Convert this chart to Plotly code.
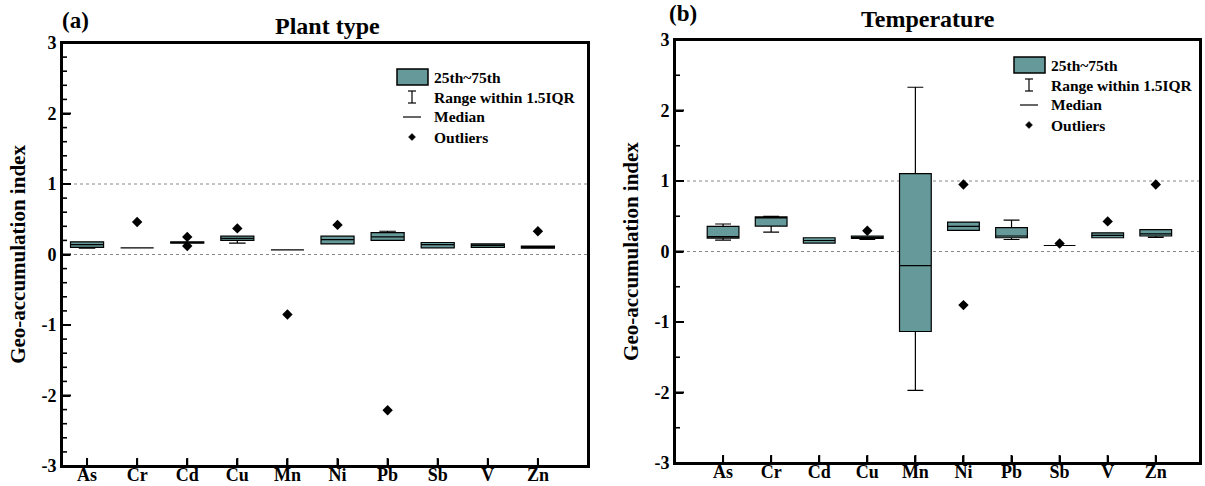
import plotly.graph_objects as go

W, H = 1205, 486

elements = ["As", "Cr", "Cd", "Cu", "Mn", "Ni", "Pb", "Sb", "V", "Zn"]

# Panel (a): Plant type
plant_q1 = [0.10, 0.095, 0.16, 0.20, 0.065, 0.15, 0.20, 0.095, 0.10, 0.09]
plant_med = [0.14, 0.095, 0.17, 0.23, 0.065, 0.21, 0.25, 0.14, 0.13, 0.11]
plant_q3 = [0.18, 0.095, 0.18, 0.26, 0.065, 0.26, 0.31, 0.17, 0.15, 0.12]
plant_lo = [0.09, 0.095, 0.16, 0.16, 0.065, 0.15, 0.20, 0.095, 0.10, 0.09]
plant_hi = [0.18, 0.095, 0.18, 0.26, 0.065, 0.26, 0.33, 0.17, 0.15, 0.12]
plant_out_x = ["Cr", "Cd", "Cd", "Cu", "Mn", "Ni", "Pb", "Zn"]
plant_out_y = [0.46, 0.25, 0.12, 0.37, -0.85, 0.42, -2.21, 0.33]

# Panel (b): Temperature
temp_q1 = [0.19, 0.36, 0.12, 0.185, -1.135, 0.30, 0.195, 0.085, 0.195, 0.22]
temp_med = [0.21, 0.48, 0.156, 0.20, -0.20, 0.356, 0.22, 0.085, 0.23, 0.25]
temp_q3 = [0.356, 0.49, 0.195, 0.22, 1.106, 0.417, 0.34, 0.085, 0.265, 0.31]
temp_lo = [0.16, 0.275, 0.12, 0.17, -1.97, 0.30, 0.17, 0.085, 0.195, 0.20]
temp_hi = [0.39, 0.50, 0.195, 0.22, 2.33, 0.417, 0.445, 0.085, 0.265, 0.31]
temp_out_x = ["Cu", "Ni", "Ni", "Sb", "V", "Zn"]
temp_out_y = [0.295, 0.95, -0.76, 0.114, 0.427, 0.95]

yticks = [-3, -2, -1, 0, 1, 2, 3]
ytick_text = ["-3", "-2", "-1", "0", "1", "2", "3"]
yminor_a = [round(-3 + 0.2 * i, 1) for i in range(31) if i % 5 != 0]
yminor_b = [-2.5, -1.5, -0.5, 0.5, 1.5, 2.5]

XRANGE_A = [-0.5, 10.0]
XRANGE_B = [-1.0, 9.92]

FILL = "#669999"
FONT = "Liberation Serif"

fig = go.Figure()

def add_panel(q1, med, q3, lo, hi, ox, oy, xa, ya):
    fig.add_trace(go.Box(
        x=elements, q1=q1, median=med, q3=q3, lowerfence=lo, upperfence=hi,
        width=0.66, whiskerwidth=0.5, fillcolor=FILL,
        line=dict(color="black", width=1.2), boxpoints=False,
        xaxis=xa, yaxis=ya, showlegend=False, hoverinfo="skip"))
    fig.add_trace(go.Scatter(
        x=ox, y=oy, mode="markers",
        marker=dict(symbol="diamond", size=8, color="black"),
        xaxis=xa, yaxis=ya, showlegend=False, hoverinfo="skip"))

add_panel(plant_q1, plant_med, plant_q3, plant_lo, plant_hi, plant_out_x, plant_out_y, "x", "y")
add_panel(temp_q1, temp_med, temp_q3, temp_lo, temp_hi, temp_out_x, temp_out_y, "x2", "y2")

def px_x(p):
    return p / W

def px_y(p):
    return 1 - p / H

xa_common = dict(type="category", categoryorder="array", categoryarray=elements,
                 showline=True, linecolor="black", linewidth=2, mirror=True,
                 ticks="inside", ticklen=7, tickwidth=2, tickcolor="black",
                 ticklabelstandoff=-9,
                 tickfont=dict(family=FONT, size=18, color="black", weight="bold"),
                 showgrid=False, zeroline=False, automargin=False)
ya_common = dict(range=[-3, 3], tickmode="array", tickvals=yticks, ticktext=ytick_text,
                 showline=True, linecolor="black", linewidth=2, mirror=True,
                 ticks="inside", ticklen=8, tickwidth=2, tickcolor="black",
                 tickfont=dict(family=FONT, size=18, color="black", weight="bold"),
                 showgrid=False, zeroline=False, automargin=False,
                 title=dict(text="Geo-accumulation index", standoff=10,
                            font=dict(family=FONT, size=21, color="black", weight="bold")))

fig.update_layout(
    width=W, height=H, margin=dict(l=0, r=0, t=0, b=0),
    plot_bgcolor="white", paper_bgcolor="white",
    xaxis=dict(domain=[px_x(62), px_x(588)], range=XRANGE_A, anchor="y", **xa_common),
    yaxis=dict(domain=[px_y(466), px_y(43)], anchor="x", **ya_common),
    xaxis2=dict(domain=[px_x(675), px_x(1200)], range=XRANGE_B, anchor="y2", **xa_common),
    yaxis2=dict(domain=[px_y(463), px_y(40)], anchor="x2", **ya_common),
)

panels = (("x", "y", 588 - 62, 466 - 43, yminor_a), ("x2", "y2", 1200 - 675, 463 - 40, yminor_b))
for xa, ya, wpx, hpx, yminor in panels:
    for yv in (0, 1):
        fig.add_shape(type="line", xref=f"{xa} domain", yref=ya, x0=0, x1=1, y0=yv, y1=yv,
                      line=dict(color="#888888", width=1, dash="dot"), layer="below")
    # frame
    fig.add_shape(type="rect", xref=f"{xa} domain", yref=f"{ya} domain", x0=0, x1=1, y0=0, y1=1,
                  line=dict(color="black", width=2), fillcolor="rgba(0,0,0,0)")
    # inside ticks on the left axis
    for v in yticks:
        fig.add_shape(type="line", xref=f"{xa} domain", yref=ya, x0=0, x1=9 / wpx, y0=v, y1=v,
                      line=dict(color="black", width=2))
    for v in yminor:
        fig.add_shape(type="line", xref=f"{xa} domain", yref=ya, x0=0, x1=5 / wpx, y0=v, y1=v,
                      line=dict(color="black", width=1.6))
    # inside ticks on the bottom axis
    for c in elements:
        fig.add_shape(type="line", xref=xa, yref=f"{ya} domain", x0=c, x1=c, y0=0, y1=8 / hpx,
                      line=dict(color="black", width=2))

def ann(text, x, y, size, xanchor="center"):
    fig.add_annotation(text=text, x=px_x(x), y=px_y(y), xref="paper", yref="paper",
                       showarrow=False, xanchor=xanchor, yanchor="middle",
                       font=dict(family=FONT, size=size, color="black", weight="bold"))

ann("Plant type", 327, 26, 24)
ann("(a)", 60, 20, 23, "left")
ann("Temperature", 928, 19, 24)
ann("(b)", 667, 14, 23, "left")

def legend(x0, y0):
    fig.add_shape(type="rect", xref="paper", yref="paper",
                  x0=px_x(x0), x1=px_x(x0 + 31), y0=px_y(y0 + 8), y1=px_y(y0 - 8),
                  fillcolor=FILL, line=dict(color="black", width=1.5))
    cx = x0 + 15
    yy = y0 + 20
    fig.add_shape(type="line", xref="paper", yref="paper", x0=px_x(cx), x1=px_x(cx),
                  y0=px_y(yy - 6), y1=px_y(yy + 6), line=dict(color="black", width=1.2))
    for d in (-6, 6):
        fig.add_shape(type="line", xref="paper", yref="paper", x0=px_x(cx - 4), x1=px_x(cx + 4),
                      y0=px_y(yy + d), y1=px_y(yy + d), line=dict(color="black", width=1.2))
    yy = y0 + 40
    fig.add_shape(type="line", xref="paper", yref="paper", x0=px_x(cx - 9), x1=px_x(cx + 9),
                  y0=px_y(yy), y1=px_y(yy), line=dict(color="black", width=1.2))
    yy = y0 + 60
    s = 3.5
    fig.add_shape(type="path", xref="paper", yref="paper",
                  path=f"M {px_x(cx)} {px_y(yy - s)} L {px_x(cx + s)} {px_y(yy)} L {px_x(cx)} {px_y(yy + s)} L {px_x(cx - s)} {px_y(yy)} Z",
                  fillcolor="black", line=dict(color="black", width=0.5))
    tx = x0 + 35
    labels = ["25th~75th", "Range within 1.5IQR", "Median", "Outliers"]
    for i, t in enumerate(labels):
        ann(t, tx, y0 + 20 * i, 15.5, "left")

legend(397, 77)
legend(1014, 65)

fig.write_html("out.html", config={"displayModeBar": False},
               post_script="document.body.style.margin='0';document.body.style.overflow='hidden';")
